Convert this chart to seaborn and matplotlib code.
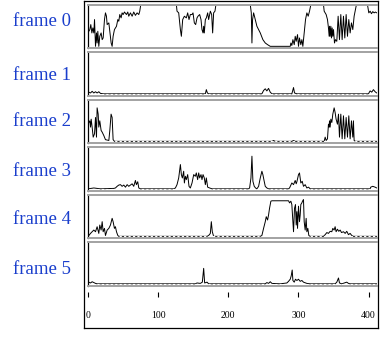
import numpy as np
import pandas as pd
import matplotlib
matplotlib.use("Agg")
import matplotlib.pyplot as plt
import seaborn as sns

# frame labels and x ticks
frame_names = ["frame 0", "frame 1", "frame 2", "frame 3", "frame 4", "frame 5"]
tick_values = [0, 100, 200, 300, 400]

# traces (x position, activation 0..1)
x0 = [0.0, 1.2, 2.6, 4.0, 5.5, 6.9, 8.3, 9.3, 10.7, 12.1, 13.0, 14.0, 15.4, 16.8, 18.7, 20.2, 21.6,
      23.5, 24.9, 26.3, 27.3, 29.7, 31.1, 33.0, 34.4, 35.8, 37.7, 40.6, 42.5, 43.9, 45.3, 47.2,
      48.6, 50.1, 52.0, 54.8, 56.7, 58.1, 60.5, 62.9, 65.2, 67.6, 70.0, 72.4, 73.8, 75.2, 126.0,
      126.9, 129.3, 131.7, 133.1, 135.0, 137.4, 140.2, 142.1, 144.0, 145.9, 148.3, 149.7, 151.6,
      153.5, 155.4, 156.8, 159.2, 161.1, 162.5, 164.0, 164.9, 165.8, 167.3, 168.7, 170.6, 172.0,
      174.4, 176.3, 177.7, 179.1, 181.0, 182.4, 231.3, 232.8, 233.7, 234.6, 236.1, 238.4, 240.8,
      243.2, 245.6, 249.3, 252.7, 256.0, 259.8, 288.3, 289.2, 290.6, 292.1, 294.0, 295.4, 296.8,
      298.7, 300.1, 301.5, 303.4, 304.9, 306.3, 308.2, 310.1, 312.0, 313.9, 315.8, 317.7, 335.7,
      336.7, 339.5, 341.4, 342.8, 343.8, 344.3, 345.2, 346.2, 347.1, 348.1, 349.0, 350.0, 351.4,
      352.8, 354.7, 356.6, 358.5, 360.4, 362.3, 364.2, 366.1, 368.0, 369.9, 371.8, 373.7, 375.6,
      377.5, 379.4, 381.3, 382.7, 398.4, 400.3, 402.2, 404.1, 406.0, 407.9, 409.7, 411.6]
y0 = [0.40, 0.36, 0.40, 0.52, 0.32, 0.44, 0.32, 0.64, 0.0, 0.32, 0.08, 0.36, 0.0, 0.24, 0.32, 0.16, 0.20,
      0.64, 0.80, 0.72, 0.52, 0.56, 0.36, 0.08, 0.0, 0.24, 0.40, 0.48, 0.64, 0.60, 0.76, 0.68,
      0.80, 0.76, 0.82, 0.76, 0.82, 0.72, 0.80, 0.72, 0.82, 0.74, 0.80, 0.76, 0.84, 1.0, 1.0,
      0.84, 0.80, 0.40, 0.24, 0.64, 0.72, 0.68, 0.80, 0.64, 0.76, 0.76, 0.80, 0.56,
      0.52, 0.68, 0.72, 0.76, 0.64, 0.40, 0.32, 0.48, 0.32, 0.64, 0.68, 0.80, 0.64,
      0.84, 0.76, 0.32, 0.80, 0.84, 1.0, 1.0, 0.80, 0.08, 0.64, 0.80, 0.64, 0.48,
      0.40, 0.32, 0.16, 0.08, 0.04, 0.0, 0.0, 0.08, 0.02, 0.16, 0.04, 0.24, 0.12,
      0.28, 0.0, 0.20, 0.04, 0.16, 0.0, 0.32, 0.64, 0.80, 0.72, 0.84, 1.0, 1.0,
      0.84, 0.76, 0.64, 0.44, 0.24, 0.48, 0.24, 0.48, 0.20, 0.44, 0.24, 0.40, 0.08,
      0.16, 0.12, 0.72, 0.16, 0.76, 0.16, 0.72, 0.20, 0.76, 0.24, 0.64, 0.32, 0.56,
      0.40, 0.72, 0.88, 1.0, 1.0, 0.80, 0.84, 0.78, 0.83, 0.80, 0.82, 0.80]

x1 = [0.0, 1.2, 3.6, 5.9, 8.3, 10.7, 13.0, 15.4, 17.8, 22.5, 167.3, 168.7, 170.2, 172.0, 247.9,
      250.3, 252.7, 255.0, 257.4, 259.8, 262.2, 290.6, 293.0, 294.4, 297.8, 399.8, 402.2, 404.5,
      406.9, 409.3, 411.6]
y1 = [0.01, 0.04, 0.02, 0.06, 0.02, 0.05, 0.02, 0.05, 0.01, 0.0, 0.0, 0.10, 0.02, 0.0, 0.0,
      0.08, 0.12, 0.07, 0.13, 0.04, 0.0, 0.0, 0.15, 0.02, 0.0, 0.0, 0.07, 0.04,
      0.10, 0.05, 0.02]

x2 = [0.0, 1.2, 2.6, 3.6, 4.5, 5.9, 7.4, 9.3, 10.7, 12.1, 13.0, 14.5, 15.4, 16.8, 18.7, 20.2, 22.5,
      24.9, 29.7, 31.1, 32.9, 34.4, 35.8, 37.7, 262.2, 264.5, 266.9, 290.6, 293.0, 295.4, 336.7,
      338.1, 339.5, 341.4, 342.8, 343.8, 344.3, 345.2, 346.2, 347.6, 349.0, 350.9, 352.3, 353.7,
      355.6, 357.1, 358.5, 360.4, 362.3, 364.2, 366.1, 368.0, 369.9, 371.8, 373.7, 375.6, 377.5,
      378.4, 379.4, 381.3, 411.6]
y2 = [0.41, 0.45, 0.49, 0.34, 0.53, 0.34, 0.10, 0.18, 0.57, 0.10, 0.80, 0.65, 0.34, 0.49, 0.26, 0.22, 0.14,
      0.04, 0.02, 0.26, 0.65, 0.57, 0.04, 0.0, 0.0, 0.02, 0.0, 0.0, 0.02, 0.0, 0.0,
      0.10, 0.02, 0.06, 0.41, 0.34, 0.49, 0.34, 0.53, 0.45, 0.65, 0.80, 0.69, 0.53,
      0.41, 0.65, 0.10, 0.65, 0.06, 0.61, 0.06, 0.57, 0.10, 0.61, 0.06, 0.49, 0.10,
      0.49, 0.02, 0.0, 0.0]

x3 = [0.0, 8.3, 17.8, 36.8, 39.1, 41.5, 43.9, 46.3, 48.6, 51.0, 53.4, 55.8, 58.1, 60.5, 62.9, 65.2,
      67.6, 69.0, 70.9, 72.4, 74.7, 122.2, 124.6, 126.9, 129.3, 131.7, 133.1, 134.5, 136.4, 137.4,
      138.8, 140.2, 142.1, 144.0, 145.9, 148.3, 150.7, 153.0, 154.4, 156.3, 157.8, 159.2, 161.1,
      162.5, 164.0, 165.8, 167.3, 168.7, 170.6, 173.4, 176.8, 228.9, 230.4, 232.3, 233.7, 235.1,
      237.0, 238.9, 240.8, 243.2, 245.6, 247.9, 249.3, 251.2, 252.7, 255.0, 257.4, 285.9, 287.3,
      290.6, 293.0, 295.4, 296.8, 297.8, 300.1, 301.5, 303.4, 305.4, 307.2, 309.6, 312.0, 314.4,
      316.7, 402.2, 403.1, 405.9, 409.3, 411.6]
y3 = [0.0, 0.02, 0.0, 0.01, 0.02, 0.06, 0.09, 0.10, 0.06, 0.09, 0.04, 0.10, 0.06, 0.09, 0.12, 0.06,
      0.20, 0.10, 0.17, 0.02, 0.0, 0.0, 0.02, 0.10, 0.26, 0.58, 0.34, 0.26, 0.42, 0.14,
      0.30, 0.22, 0.34, 0.06, 0.02, 0.14, 0.34, 0.30, 0.38, 0.22, 0.38, 0.26, 0.34,
      0.22, 0.34, 0.26, 0.10, 0.26, 0.04, 0.02, 0.0, 0.0, 0.02, 0.26, 0.78, 0.18,
      0.06, 0.02, 0.0, 0.06, 0.26, 0.42, 0.34, 0.18, 0.06, 0.02, 0.0, 0.0, 0.02,
      0.14, 0.10, 0.20, 0.12, 0.17, 0.34, 0.38, 0.14, 0.18, 0.06, 0.10, 0.02, 0.04,
      0.0, 0.0, 0.04, 0.06, 0.04, 0.02]

x4 = [0.0, 1.2, 3.6, 5.9, 8.3, 10.7, 13.0, 15.4, 16.8, 18.7, 20.2, 21.6, 23.5, 24.9, 27.3, 29.7,
      32.0, 34.4, 35.8, 37.7, 39.1, 40.6, 42.5, 43.9, 169.7, 172.0, 174.4, 175.8, 177.2, 179.1,
      245.6, 247.9, 250.3, 252.7, 254.1, 256.0, 257.4, 258.8, 260.7, 262.2, 285.9, 287.3, 289.2,
      290.6, 292.1, 293.0, 294.4, 295.8, 296.8, 297.8, 298.7, 300.1, 301.5, 302.5, 303.4, 304.9,
      305.8, 307.2, 308.2, 309.6, 311.0, 312.0, 313.4, 314.8, 316.7, 335.7, 338.1, 340.5, 342.8,
      345.2, 347.6, 349.0, 350.9, 352.3, 353.7, 355.6, 357.5, 359.5, 361.4, 364.2, 366.6, 368.9,
      371.3, 373.7, 376.0, 378.4, 411.6]
y4 = [0.0, 0.02, 0.07, 0.11, 0.15, 0.11, 0.23, 0.07, 0.27, 0.15, 0.35, 0.11, 0.19, 0.02, 0.15, 0.19,
      0.27, 0.43, 0.35, 0.19, 0.23, 0.11, 0.02, 0.0, 0.0, 0.02, 0.07, 0.35, 0.11, 0.0,
      0.0, 0.02, 0.19, 0.35, 0.47, 0.39, 0.51, 0.67, 0.84, 0.85, 0.85, 0.80, 0.84,
      0.76, 0.35, 0.11, 0.67, 0.76, 0.27, 0.59, 0.19, 0.72, 0.35, 0.51, 0.76, 0.80,
      0.84, 0.88, 0.35, 0.15, 0.43, 0.11, 0.19, 0.02, 0.0, 0.0, 0.04, 0.09, 0.07,
      0.12, 0.11, 0.19, 0.15, 0.23, 0.11, 0.17, 0.12, 0.15, 0.09, 0.11, 0.07, 0.12,
      0.04, 0.07, 0.02, 0.0, 0.0]

x5 = [0.0, 1.2, 3.6, 5.9, 8.3, 10.7, 13.0, 153.0, 155.4, 160.2, 163.0, 164.9, 166.3, 169.7, 172.0,
      252.7, 255.0, 257.4, 259.8, 262.2, 274.0, 283.5, 285.9, 288.3, 289.7, 291.1, 292.1, 294.0,
      295.8, 297.8, 300.1, 302.5, 304.9, 307.2, 312.0, 316.7, 352.3, 354.7, 357.1, 358.5, 361.8,
      368.9, 371.3, 373.7, 411.6]
y5 = [0.02, 0.04, 0.02, 0.05, 0.03, 0.01, 0.0, 0.0, 0.02, 0.01, 0.04, 0.37, 0.02, 0.04, 0.0,
      0.0, 0.03, 0.01, 0.05, 0.01, 0.0, 0.02, 0.06, 0.11, 0.19, 0.33, 0.08, 0.04,
      0.11, 0.08, 0.11, 0.06, 0.08, 0.04, 0.01, 0.0, 0.0, 0.04, 0.14, 0.02, 0.0,
      0.04, 0.01, 0.0, 0.0]

traces = [(x0, y0), (x1, y1), (x2, y2), (x3, y3), (x4, y4), (x5, y5)]

sns.set_style("white")
plt.rcParams["font.family"] = ["Liberation Serif", "DejaVu Serif"]

W, H = 385, 339
fig = plt.figure(figsize=(W / 100, H / 100), dpi=100)

# outer box
box = fig.add_axes([84 / W, 1 - 328 / H, (378 - 84) / W, 327.5 / H])
box.set_xticks([])
box.set_yticks([])
for s in box.spines.values():
    s.set_color("black")
    s.set_linewidth(0.9)

left, right = 88, 377
xmax = 412
label_y = [22, 75, 121, 171, 219, 270]

for i, (xs, ys) in enumerate(traces):
    top = 4.5 + 47.5 * i
    h = 43.5
    ax = fig.add_axes([left / W, 1 - (top + h) / H, (right - left) / W, h / H])
    df = pd.DataFrame({"x": xs, "y": ys})
    sns.lineplot(data=df, x="x", y="y", ax=ax, color="black", linewidth=0.7,
                 estimator=None, sort=False)
    if i > 0:
        ax.axhline(0, color="white", linewidth=0.8, dashes=(2, 2), zorder=2.2)
    ax.set_xlim(0, xmax)
    ax.set_ylim(-0.04, 1.0)
    ax.set_xticks([])
    ax.set_yticks([])
    ax.set_xlabel("")
    ax.set_ylabel("")
    ax.patch.set_alpha(0)
    for side in ["top", "bottom"]:
        ax.spines[side].set_color("#a2a2a2")
        ax.spines[side].set_linewidth(1.4)
    ax.spines["left"].set_color("black")
    ax.spines["left"].set_linewidth(0.9)
    ax.spines["right"].set_visible(False)
    fig.text(13 / W, 1 - label_y[i] / H, frame_names[i], color="#1a3ecc",
             fontsize=13.5, ha="left", va="center")

# tick strip under the panels
tx = fig.add_axes([left / W, 1 - 297 / H, (right - left) / W, 5.5 / H])
tx.patch.set_alpha(0)
tx.set_xlim(0, xmax)
tx.set_yticks([])
tx.set_xticks(tick_values)
tx.set_xticklabels([str(t) for t in tick_values])
tx.tick_params(axis="x", bottom=True, direction="in", length=3.8, width=0.8, pad=10,
               labelsize=7, colors="black")
for s in tx.spines.values():
    s.set_visible(False)

fig.savefig("out.png", dpi=100)
